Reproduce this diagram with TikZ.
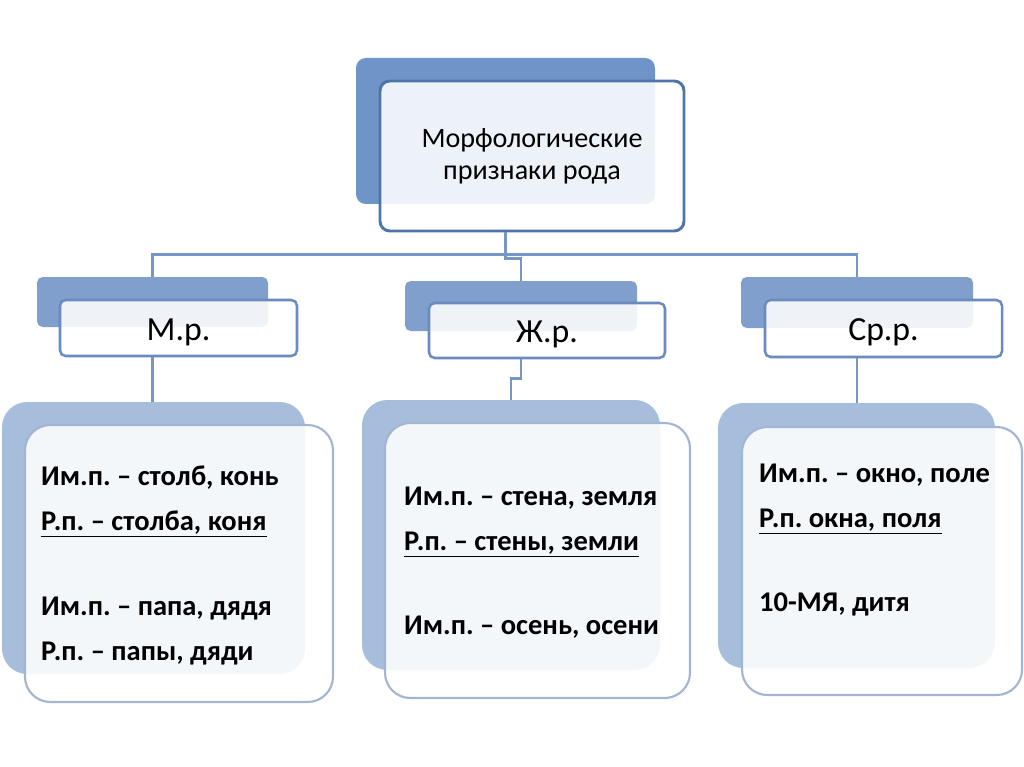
\documentclass[tikz,border=0pt]{standalone}
\usepackage{fontspec}
\setmainfont{Carlito}
\usetikzlibrary{calc,fit}
\frenchspacing
\definecolor{backA}{HTML}{6F95C8}
\definecolor{backB}{HTML}{819FCC}
\definecolor{backC}{HTML}{A6BEDB}
\definecolor{lineA}{HTML}{4F75A8}
\definecolor{lineB}{HTML}{6A8BBE}
\definecolor{lineC}{HTML}{A3B5D1}
\definecolor{linkc}{HTML}{7696C6}
\tikzset{
  back/.style={inner sep=0pt, draw=none, fill=#1},
  front/.style={inner sep=0pt, draw=#1, fill=white, fill opacity=0.88},
  link/.style={draw=linkc, line width=1.8pt},
  midtext/.style={font=\fontsize{24}{28}\selectfont, yshift=-3pt},
  leftcol/.style={anchor=west, align=left, inner sep=0pt,
    font=\fontsize{20.3}{32}\selectfont\bfseries}
}

\begin{document}
\begin{tikzpicture}[x=0.025cm,y=-0.025cm]
		%%%%% START %%%%%
		\useasboundingbox (0,0) rectangle (1024,767);
		
		% top
		\node[back=backA, rounded corners=7pt, fit={(356,58) (655,204)}] (tb) {};
		\node[front=lineA, line width=2.1pt, rounded corners=7pt, fit={(380,81) (684,231)}] (t) {};
		\node[align=center, font=\fontsize{20}{23}\selectfont] (ttxt) at (t.center) {Морфологические\\признаки рода};
		
		% second row
		\node[back=backB, rounded corners=4pt, fit={(37,277) (268,327)}] (mb) {};
		\node[front=lineB, line width=1.8pt, rounded corners=4pt, fit={(60,300) (297,356)}] (m) {};
		\node[midtext] (mtxt) at (m.center) {М.р.};
		
		\node[back=backB, rounded corners=4pt, fit={(405,281) (637,331)}] (zb) {};
		\node[front=lineB, line width=1.8pt, rounded corners=4pt, fit={(429,303) (665,358)}] (z) {};
		\node[midtext] (ztxt) at (z.center) {Ж.р.};
		
		\node[back=backB, rounded corners=4pt, fit={(741,277) (973,328)}] (sb) {};
		\node[front=lineB, line width=1.8pt, rounded corners=4pt, fit={(765,300) (1002,357)}] (s) {};
		\node[midtext] (stxt) at (s.center) {Ср.р.};
		
		% third row
		\node[back=backC, rounded corners=18pt, fit={(2,402) (305,674)}] (lb) {};
		\node[front=lineC, line width=1.5pt, rounded corners=18pt, fit={(25,425) (333,702)}] (l) {};
		\node[leftcol] (ltxt) at ($(l.west)+(17,2)$) {Им.п. – столб, конь\\\underline{Р.п. – столба, коня}\\[28pt]Им.п. – папа, дядя\\Р.п. – папы, дяди};
		
		\node[back=backC, rounded corners=18pt, fit={(362,400) (660,670)}] (cb) {};
		\node[front=lineC, line width=1.5pt, rounded corners=18pt, fit={(385,423) (690,698)}] (c) {};
		\node[leftcol] (ctxt) at ($(c.west)+(20,2)$) {Им.п. – стена, земля\\\underline{Р.п. – стены, земли}\\[28pt]Им.п. – осень, осени};
		
		\node[back=backC, rounded corners=18pt, fit={(718,403) (995,668)}] (rb) {};
		\node[front=lineC, line width=1.5pt, rounded corners=18pt, fit={(742,427) (1022,695)}] (r) {};
		\node[leftcol] (rtxt) at ($(r.west)+(18,-21)$) {Им.п. – окно, поле\\\underline{Р.п. окна, поля}\\[28pt]10-МЯ, дитя};
		
		% connectors
		\draw[link] (tb.south |- t.south) -- ++(0,22) -| (mb.north);
		\draw[link] (tb.south |- t.south) -- ++(0,22) -| (sb.north);
		\draw[link] (tb.south |- t.south) -- ++(0,26) -| (zb.north);
		\draw[link] (mb.south |- m.south) -- (mb.south |- lb.north);
		\draw[link] (zb.south |- z.south) -- ++(0,19) -| (cb.north);
		\draw[link] (sb.south |- s.south) -- (sb.south |- rb.north);
		%%%%% END %%%%%
\end{tikzpicture}
\end{document}
